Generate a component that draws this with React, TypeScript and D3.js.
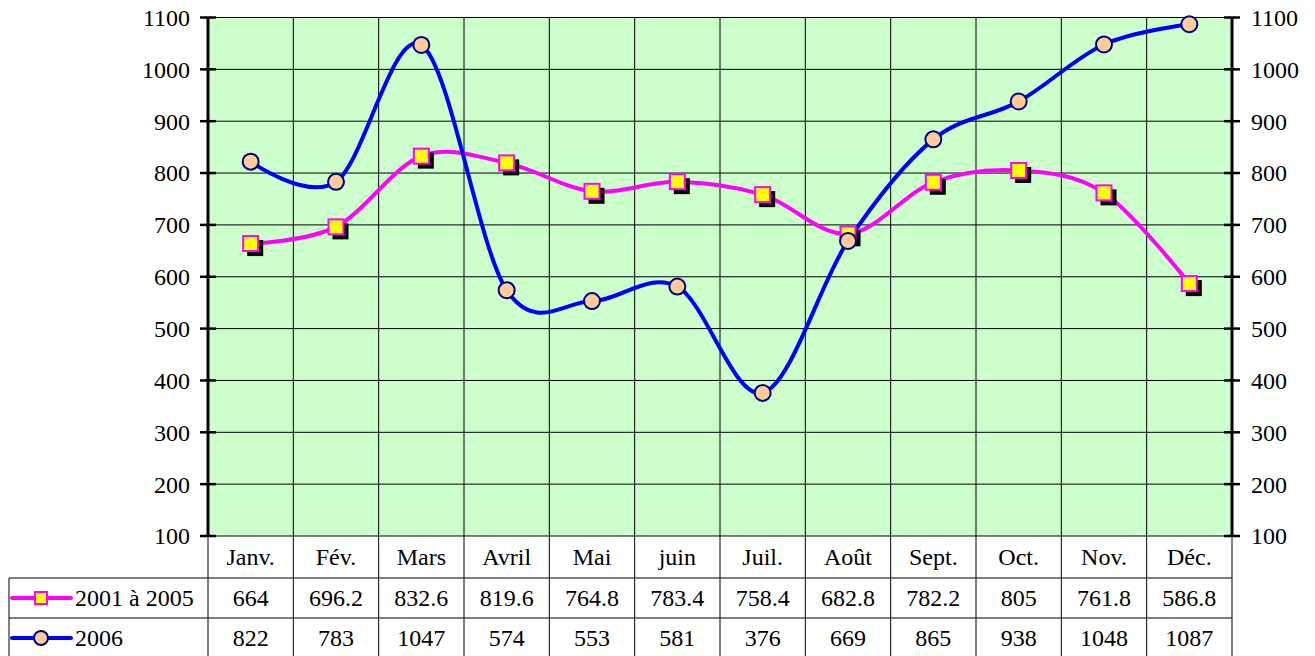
import React from 'react';
import * as d3 from 'd3';

const months = ['Janv.', 'Fév.', 'Mars', 'Avril', 'Mai', 'juin', 'Juil.', 'Août', 'Sept.', 'Oct.', 'Nov.', 'Déc.'];
const avg0105 = [664, 696.2, 832.6, 819.6, 764.8, 783.4, 758.4, 682.8, 782.2, 805, 761.8, 586.8];
const y2006 = [822, 783, 1047, 574, 553, 581, 376, 669, 865, 938, 1048, 1087];
const yTicks = [100, 200, 300, 400, 500, 600, 700, 800, 900, 1000, 1100];

const W = 1315;
const H = 656;
const left = 208;
const right = 1232;
const top = 17.5;
const bottom = 536;
const row1 = 578;
const row2 = 618;
const tableLeft = 9;
const fs = 24;

const App = () => {
  const x = d3.scaleBand<string>().domain(months).range([left, right]);
  const y = d3.scaleLinear().domain([100, 1100]).range([bottom, top]);
  const cx = (m: string) => (x(m) as number) + x.bandwidth() / 2;

  const line = d3.line<number>()
    .x((_, i) => cx(months[i]))
    .y(d => y(d))
    .curve(d3.curveCardinal.tension(0));

  const sq = 15;

  return (
    <svg width={W} height={H} style={{ position: 'absolute', left: 0, top: 0, fontFamily: 'Liberation Serif' }}>
      <rect x={left} y={top} width={right - left} height={bottom - top} fill="#CCFFCC" />
      {/* grid */}
      {yTicks.map(t => (
        <line key={'h' + t} x1={left} x2={right} y1={y(t)} y2={y(t)} stroke="#000" strokeWidth={1} />
      ))}
      {months.map((m, i) => i > 0 && (
        <line key={'v' + m} x1={x(m)} x2={x(m)} y1={top} y2={H} stroke="#000" strokeWidth={1} />
      ))}
      {/* axes */}
      <line x1={left} x2={left} y1={top} y2={bottom} stroke="#000" strokeWidth={3} />
      <line x1={right} x2={right} y1={top} y2={bottom} stroke="#000" strokeWidth={3} />
      {yTicks.map(t => (
        <g key={'t' + t}>
          <line x1={left - 8} x2={left + 8} y1={y(t)} y2={y(t)} stroke="#000" strokeWidth={2.5} />
          <line x1={right - 8} x2={right + 8} y1={y(t)} y2={y(t)} stroke="#000" strokeWidth={2.5} />
          <text x={190} y={y(t)} dy="0.35em" textAnchor="end" fontSize={fs}>{t}</text>
          <text x={1251} y={y(t)} dy="0.35em" textAnchor="start" fontSize={fs}>{t}</text>
        </g>
      ))}
      {/* table */}
      <line x1={left} x2={left} y1={bottom} y2={H} stroke="#000" strokeWidth={1} />
      <line x1={right} x2={right} y1={bottom} y2={H} stroke="#000" strokeWidth={1} />
      <line x1={tableLeft} x2={tableLeft} y1={row1} y2={H} stroke="#000" strokeWidth={1} />
      <line x1={tableLeft} x2={right} y1={row1} y2={row1} stroke="#000" strokeWidth={1} />
      <line x1={tableLeft} x2={right} y1={row2} y2={row2} stroke="#000" strokeWidth={1} />
      {months.map((m, i) => (
        <g key={'c' + m}>
          <text x={cx(m)} y={(bottom + row1) / 2} dy="0.35em" textAnchor="middle" fontSize={fs}>{m}</text>
          <text x={cx(m)} y={(row1 + row2) / 2} dy="0.35em" textAnchor="middle" fontSize={fs}>{String(avg0105[i])}</text>
          <text x={cx(m)} y={(row2 + H) / 2 + 1} dy="0.35em" textAnchor="middle" fontSize={fs}>{String(y2006[i])}</text>
        </g>
      ))}
      {/* legend in table */}
      <line x1={12} x2={71} y1={(row1 + row2) / 2} y2={(row1 + row2) / 2} stroke="#FF00FF" strokeWidth={4} strokeLinecap="round" />
      <rect x={41 - 6} y={(row1 + row2) / 2 - 6} width={12} height={12} fill="#FFFF00" stroke="#FF00FF" strokeWidth={2} />
      <text x={75} y={(row1 + row2) / 2} dy="0.35em" fontSize={fs}>2001 à 2005</text>
      <line x1={12} x2={71} y1={(row2 + H) / 2 + 1} y2={(row2 + H) / 2 + 1} stroke="#0000FF" strokeWidth={4} strokeLinecap="round" />
      <circle cx={41} cy={(row2 + H) / 2 + 1} r={7} fill="#FFCC99" stroke="#000080" strokeWidth={2} />
      <text x={75} y={(row2 + H) / 2 + 1} dy="0.35em" fontSize={fs}>2006</text>
      {/* series */}
      <path d={line(avg0105) || ''} fill="none" stroke="#FF00FF" strokeWidth={4} />
      <path d={line(y2006) || ''} fill="none" stroke="#0000FF" strokeWidth={4} />
      {avg0105.map((v, i) => (
        <g key={'s' + i}>
          <rect x={cx(months[i]) - sq / 2 + 4} y={y(v) - sq / 2 + 4} width={sq + 1} height={sq + 1} fill="#000" />
          <rect x={cx(months[i]) - sq / 2} y={y(v) - sq / 2} width={sq} height={sq} fill="#FFFF00" stroke="#FF00FF" strokeWidth={2} />
        </g>
      ))}
      {y2006.map((v, i) => (
        <circle key={'p' + i} cx={cx(months[i])} cy={y(v)} r={8} fill="#FFCC99" stroke="#000080" strokeWidth={2} />
      ))}
    </svg>
  );
};

export default App;
